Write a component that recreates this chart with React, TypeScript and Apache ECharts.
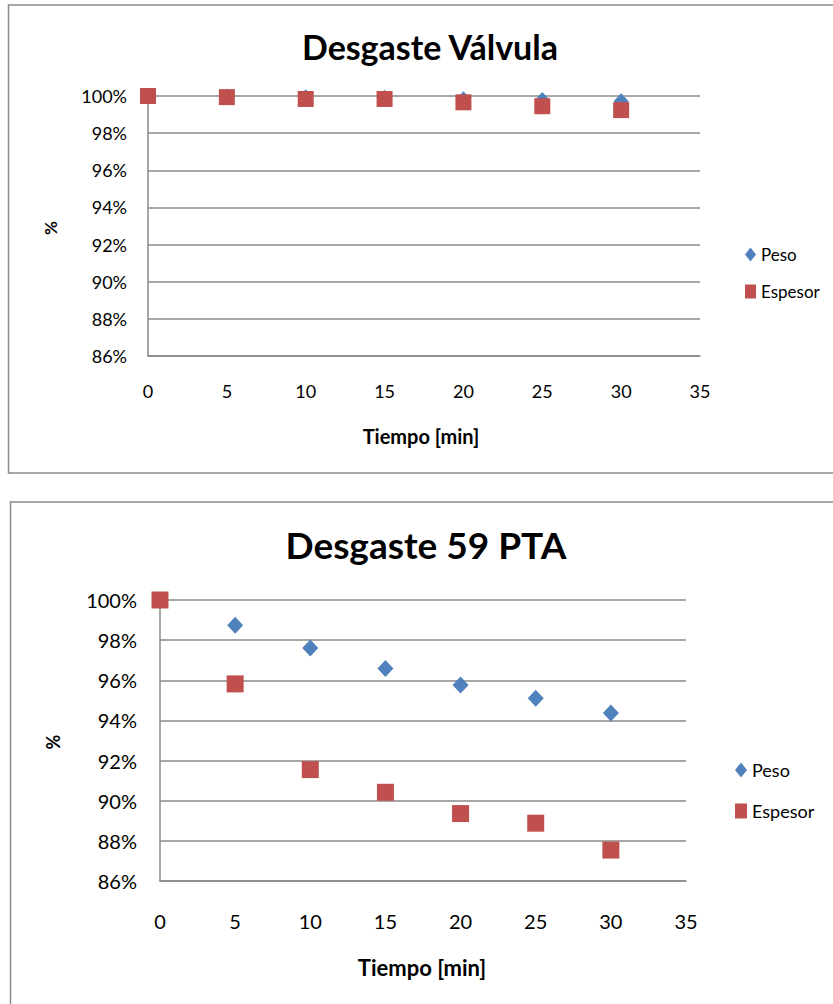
import React, { useEffect, useRef } from "react";
import * as echarts from "echarts";

// Data
const minutes = [0, 5, 10, 15, 20, 25, 30];
const xTickValues = [0, 5, 10, 15, 20, 25, 30, 35];
const yTickValues = [86, 88, 90, 92, 94, 96, 98, 100];

const valvulaPeso = [100, 99.97, 99.93, 99.9, 99.82, 99.78, 99.72];
const valvulaEspesor = [100, 99.94, 99.84, 99.84, 99.66, 99.45, 99.24];

const ptaPeso = [100, 98.74, 97.61, 96.59, 95.76, 95.11, 94.37];
const ptaEspesor = [100, 95.82, 91.55, 90.42, 89.36, 88.88, 87.54];

const titles = ["Desgaste Válvula", "Desgaste 59 PTA"];
const seriesNames = ["Peso", "Espesor"];
const xAxisTitle = "Tiempo [min]";
const yAxisTitle = "%";

const BLUE = "#4F81BD";
const RED = "#C0504D";
const GRID = "#8A8A8A";
const FONT = "Lato, 'Open Sans', sans-serif";

const pairs = (ys: number[]) => minutes.map((m, i) => [m, ys[i]]);

export default function App() {
  const ref = useRef<HTMLDivElement>(null);

  useEffect(() => {
    if (!ref.current) return;
    const chart = echarts.init(ref.current, null, { renderer: "svg" });

    const xAxisBase = (gridIndex: number, fontSize: number, margin: number) => ({
      type: "value",
      gridIndex,
      min: xTickValues[0],
      max: xTickValues[xTickValues.length - 1],
      interval: 5,
      axisLine: { show: true, lineStyle: { color: GRID, width: 1.5 } },
      axisTick: { show: false },
      splitLine: { show: false },
      axisLabel: { color: "#000", fontFamily: FONT, fontSize, margin },
    });
    const yAxisBase = (gridIndex: number, fontSize: number, margin: number) => ({
      type: "value",
      gridIndex,
      min: yTickValues[0],
      max: yTickValues[yTickValues.length - 1],
      interval: 2,
      axisLine: { show: true, lineStyle: { color: GRID, width: 1.5 } },
      axisTick: { show: false },
      splitLine: { show: true, lineStyle: { color: GRID, width: 1.5 } },
      axisLabel: {
        color: "#000",
        fontFamily: FONT,
        fontSize,
        margin,
        formatter: "{value}%",
      },
    });

    const option = {
      animation: false,
      backgroundColor: "#fff",
      title: [
        {
          text: titles[0],
          left: 425,
          top: 24,
          textAlign: "center",
          textStyle: { fontFamily: FONT, fontWeight: "bold", fontSize: 34, color: "#000" },
        },
        {
          text: titles[1],
          left: 421,
          top: 521,
          textAlign: "center",
          textStyle: { fontFamily: FONT, fontWeight: "bold", fontSize: 37, color: "#000" },
        },
      ],
      legend: [
        {
          orient: "vertical",
          left: 740,
          top: 241,
          itemWidth: 11,
          itemHeight: 14,
          itemGap: 20,
          data: [
            { name: seriesNames[0], icon: "diamond" },
            { name: seriesNames[1], icon: "rect" },
          ],
          textStyle: { fontFamily: FONT, fontSize: 17, color: "#000" },
        },
        {
          orient: "vertical",
          left: 730,
          top: 756,
          itemWidth: 12,
          itemHeight: 15,
          itemGap: 23,
          data: [
            { name: seriesNames[0] + " ", icon: "diamond" },
            { name: seriesNames[1] + " ", icon: "rect" },
          ],
          textStyle: { fontFamily: FONT, fontSize: 18, color: "#000" },
        },
      ],
      grid: [
        { left: 148, top: 96, width: 552, height: 260 },
        { left: 160, top: 600, width: 526, height: 281 },
      ],
      xAxis: [xAxisBase(0, 18, 26), xAxisBase(1, 20, 30)],
      yAxis: [yAxisBase(0, 18, 21), yAxisBase(1, 20, 23)],
      series: [
        {
          name: seriesNames[0],
          type: "scatter",
          xAxisIndex: 0,
          yAxisIndex: 0,
          symbol: "diamond",
          symbolSize: [15, 16],
          clip: false,
          itemStyle: { color: BLUE, opacity: 1 },
          data: pairs(valvulaPeso),
        },
        {
          name: seriesNames[1],
          type: "scatter",
          xAxisIndex: 0,
          yAxisIndex: 0,
          symbol: "rect",
          symbolSize: 16,
          clip: false,
          itemStyle: { color: RED, opacity: 1 },
          data: pairs(valvulaEspesor),
        },
        {
          name: seriesNames[0] + " ",
          type: "scatter",
          xAxisIndex: 1,
          yAxisIndex: 1,
          symbol: "diamond",
          symbolSize: [16, 17],
          clip: false,
          itemStyle: { color: BLUE, opacity: 1 },
          data: pairs(ptaPeso),
        },
        {
          name: seriesNames[1] + " ",
          type: "scatter",
          xAxisIndex: 1,
          yAxisIndex: 1,
          symbol: "rect",
          symbolSize: 17,
          clip: false,
          itemStyle: { color: RED, opacity: 1 },
          data: pairs(ptaEspesor),
        },
      ],
      graphic: [
        {
          type: "rect",
          silent: true,
          shape: { x: 8.5, y: 5, width: 900, height: 468 },
          style: { fill: "none", stroke: GRID, lineWidth: 1.5 },
          z: -1,
        },
        {
          type: "rect",
          silent: true,
          shape: { x: 10.5, y: 502, width: 900, height: 600 },
          style: { fill: "none", stroke: GRID, lineWidth: 1.5 },
          z: -1,
        },
        {
          type: "text",
          x: 50,
          y: 228,
          rotation: Math.PI / 2,
          style: {
            text: yAxisTitle,
            fontFamily: FONT,
            fontWeight: "bold",
            fontSize: 17,
            fill: "#000",
            align: "center",
            verticalAlign: "middle",
          },
        },
        {
          type: "text",
          x: 53,
          y: 742,
          rotation: Math.PI / 2,
          style: {
            text: yAxisTitle,
            fontFamily: FONT,
            fontWeight: "bold",
            fontSize: 18,
            fill: "#000",
            align: "center",
            verticalAlign: "middle",
          },
        },
        {
          type: "text",
          x: 421,
          y: 436,
          style: {
            text: xAxisTitle,
            fontFamily: FONT,
            fontWeight: "bold",
            fontSize: 20,
            fill: "#000",
            align: "center",
            verticalAlign: "middle",
          },
        },
        {
          type: "text",
          x: 422,
          y: 967,
          style: {
            text: xAxisTitle,
            fontFamily: FONT,
            fontWeight: "bold",
            fontSize: 22,
            fill: "#000",
            align: "center",
            verticalAlign: "middle",
          },
        },
      ],
    };

    chart.setOption(option as any);
    return () => chart.dispose();
  }, []);

  return (
    <div
      ref={ref}
      style={{ position: "absolute", left: 0, top: 0, width: 833, height: 1004 }}
    />
  );
}
